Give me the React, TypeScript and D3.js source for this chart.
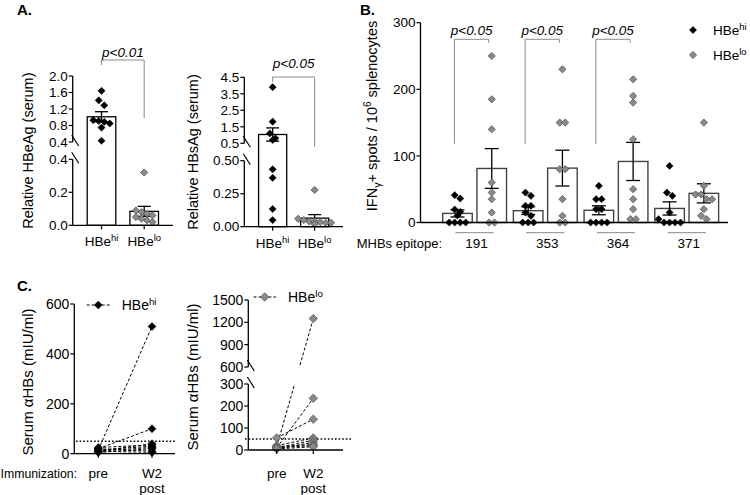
import React from 'react';
import * as d3 from 'd3';

// ---------- DATA ----------
const groupsA = ['hi', 'lo'];
const hbeagHi = [1.64, 1.41, 1.29, 0.93, 0.91, 0.89, 0.85, 0.75, 0.43];
const hbeagLo = [0.32, 0.08, 0.06, 0.05, 0.09, 0.07, 0.03, 0.02, 0.04];
const hbsagHi = [3.9, 1.81, 1.1, 0.8, 0.7, 0.435, 0.37, 0.134, 0.05];
const hbsagLo = [0.278, 0.06, 0.04, 0.03, 0.035, 0.05, 0.04, 0.02, 0.03];
const hbeagTicksLow = [0, 0.2, 0.4];
const hbeagTicksHigh = [0.4, 0.8, 1.2, 1.6, 2.0];
const hbsagTicksLow = [0, 0.25, 0.5];
const hbsagTicksHigh = [0.5, 1.5, 2.5, 3.5, 4.5];

const epitopes = ['191', '353', '364', '371'];
const spotsHi = [
  [41, 36, 19.5, 16, 10.5, 0, 0, 0, 0],
  [45, 40, 25, 25, 15, 10, 0, 0, 0],
  [55, 35, 35, 20, 20, 0, 0, 0, 0],
  [85, 45, 40, 15, 5, 0, 0, 0, 0],
];
const spotsLo = [
  [250, 185, 140, 60, 45, 35, 15, 0, 0],
  [230, 150, 150, 80, 80, 35, 10, 0, 0],
  [215, 190, 180, 125, 50, 35, 20, 5, 5],
  [150, 55, 42, 42, 35, 35, 20, 10, 5],
];
const spotTicks = [0, 100, 200, 300];
const significantEpitopes = ['191', '353', '364'];

const timepoints = ['pre', 'post'];
const abHiPre = [15, 20, 10, 25, 15, 10, 5, 20, 10];
const abHiPost = [510, 100, 40, 35, 30, 25, 20, 10, 5];
const abLoPre = [15, 10, 55, 20, 10, 5, 15, 10, 5];
const abLoPost = [1250, 235, 140, 55, 45, 35, 25, 20, 15];
const abHiTicks = [0, 200, 400, 600];
const abLoTicksLow = [0, 100, 200, 300];
const abLoTicksHigh = [600, 900, 1200, 1500];
const protectiveLevel = 50;

// ---------- STYLE ----------
const FONT = "'Liberation Sans', Arial, Helvetica, sans-serif";
const FS = 13;
const GRAY_FILL = '#8a8a8a';
const GRAY_STROKE = '#555';
const BRACKET = '#8c8c8c';

type Seg = { d: [number, number]; r: [number, number] };
function broken(segs: Seg[]) {
  const sc = segs.map((s) => d3.scaleLinear().domain(s.d).range(s.r));
  return (v: number) => {
    for (let i = 0; i < segs.length; i++) {
      if (v <= segs[i].d[1] || i === segs.length - 1) return sc[i](v);
    }
    return sc[sc.length - 1](v);
  };
}

function swarm(values: number[], y: (v: number) => number, cx: number, spacing: number, tol = 5) {
  const pts = values.map((v) => ({ v, y: y(v), x: cx }));
  const sorted = [...pts].sort((a, b) => a.y - b.y);
  const rows: typeof pts[] = [];
  let cur: typeof pts = [];
  let start = -1e9;
  sorted.forEach((p) => {
    if (cur.length && Math.abs(p.y - start) <= tol) cur.push(p);
    else {
      if (cur.length) rows.push(cur);
      cur = [p];
      start = p.y;
    }
  });
  if (cur.length) rows.push(cur);
  rows.forEach((r) => r.forEach((p, i) => (p.x = cx + (i - (r.length - 1) / 2) * spacing)));
  return pts;
}

const diamond = (x: number, y: number, h: number) =>
  `M${x},${y - h}L${x + h},${y}L${x},${y + h}L${x - h},${y}Z`;

function Diamond({ x, y, h, gray }: { x: number; y: number; h: number; gray?: boolean }) {
  return (
    <path
      d={diamond(x, y, h)}
      fill={gray ? GRAY_FILL : '#000'}
      stroke={gray ? GRAY_STROKE : '#000'}
      strokeWidth={gray ? 0.8 : 0.5}
    />
  );
}

function HBe({ x, y, sup, anchor = 'middle', fs = FS }: { x: number; y: number; sup: string; anchor?: string; fs?: number }) {
  return (
    <text x={x} y={y} textAnchor={anchor as any} fontSize={fs} fontFamily={FONT}>
      HBe<tspan fontSize={fs * 0.7} dy={-fs * 0.38}>{sup}</tspan>
    </text>
  );
}

function meanSem(v: number[]) {
  const m = d3.mean(v) as number;
  const s = (d3.deviation(v) as number) / Math.sqrt(v.length);
  return { m, s };
}

function ErrBar({ x, y1, y2, w, color = '#000' }: { x: number; y1: number; y2: number; w: number; color?: string }) {
  return (
    <g stroke={color} strokeWidth={1.3}>
      <line x1={x} x2={x} y1={y1} y2={y2} />
      <line x1={x - w / 2} x2={x + w / 2} y1={y1} y2={y1} />
      <line x1={x - w / 2} x2={x + w / 2} y1={y2} y2={y2} />
    </g>
  );
}

function BreakMarks({ ax, yA, yB }: { ax: number; yA: number; yB: number }) {
  return (
    <g stroke="#000" strokeWidth={1.2}>
      <line x1={ax - 1} x2={ax + 6} y1={yA - 7} y2={yA + 4} />
      <line x1={ax - 1} x2={ax + 6} y1={yB - 7} y2={yB + 4} />
    </g>
  );
}

function YAxisBroken({ ax, segs, low, high, fmtLow, fmtHigh, fs = FS }: any) {
  const sl = d3.scaleLinear().domain(segs[0].d).range(segs[0].r);
  const sh = d3.scaleLinear().domain(segs[1].d).range(segs[1].r);
  const ticks = [
    ...low.map((t: number) => ({ y: sl(t), s: fmtLow(t) })),
    ...high.map((t: number) => ({ y: sh(t), s: fmtHigh(t) })),
  ];
  return (
    <g>
      <line x1={ax} x2={ax} y1={segs[0].r[0]} y2={segs[0].r[1]} stroke="#000" strokeWidth={1.3} />
      <line x1={ax} x2={ax} y1={segs[1].r[0]} y2={segs[1].r[1]} stroke="#000" strokeWidth={1.3} />
      <BreakMarks ax={ax} yA={segs[1].r[0]} yB={segs[0].r[1]} />
      {ticks.map((d: any, i: number) => (
        <g key={i}>
          <line x1={ax - 4} x2={ax} y1={d.y} y2={d.y} stroke="#000" strokeWidth={1.2} />
          <text x={ax - 5} y={d.y} dy="0.35em" textAnchor="end" fontSize={fs} fontFamily={FONT}>
            {d.s}
          </text>
        </g>
      ))}
    </g>
  );
}

function YAxis({ ax, scale, ticks, fs = FS }: { ax: number; scale: d3.ScaleLinear<number, number>; ticks: number[]; fs?: number }) {
  const r = scale.range();
  return (
    <g>
      <line x1={ax} x2={ax} y1={r[0]} y2={r[1]} stroke="#000" strokeWidth={1.3} />
      {ticks.map((t) => (
        <g key={t}>
          <line x1={ax - 4} x2={ax} y1={scale(t)} y2={scale(t)} stroke="#000" strokeWidth={1.2} />
          <text x={ax - 5} y={scale(t)} dy="0.35em" textAnchor="end" fontSize={fs} fontFamily={FONT}>
            {t}
          </text>
        </g>
      ))}
    </g>
  );
}

function PanelA({ hi, lo, segs, low, high, fmtLow, fmtHigh, ax, axEnd, label, labelX, pText, pY, bracketY, leftDrop, rightDrop }: any) {
  const y = broken(segs);
  const x = d3.scaleBand().domain(groupsA).range([ax, axEnd]).paddingInner(0.33).paddingOuter(0.34);
  const bw = x.bandwidth();
  const y0 = segs[0].r[0];
  const sets = [hi, lo];
  const cxs = groupsA.map((g) => (x(g) as number) + bw / 2);
  return (
    <g>
      {groupsA.map((g, i) => {
        const { m, s } = meanSem(sets[i]);
        const pts = swarm(sets[i], y, cxs[i], 5.5);
        return (
          <g key={g}>
            <rect x={x(g)} y={y(m)} width={bw} height={y0 - y(m)} fill="#fff" stroke="#000" strokeWidth={1.3} />
            <ErrBar x={cxs[i]} y1={y(m + s)} y2={y(m - s)} w={13} />
            {pts.map((p, j) => (
              <Diamond key={j} x={p.x} y={p.y} h={3.6} gray={i === 1} />
            ))}
            <line x1={cxs[i]} x2={cxs[i]} y1={y0} y2={y0 + 4} stroke="#000" strokeWidth={1.2} />
            <HBe x={cxs[i]} y={y0 + 21} sup={g} fs={13.5} />
          </g>
        );
      })}
      <line x1={ax} x2={axEnd} y1={y0} y2={y0} stroke="#000" strokeWidth={1.3} />
      <YAxisBroken ax={ax} segs={segs} low={low} high={high} fmtLow={fmtLow} fmtHigh={fmtHigh} fs={13.5} />
      <text transform={`translate(${labelX},${(segs[0].r[0] + segs[1].r[1]) / 2}) rotate(-90)`} textAnchor="middle" fontSize={14.5} fontFamily={FONT}>
        {label}
      </text>
      <path d={`M${cxs[0]},${bracketY + leftDrop}V${bracketY}H${cxs[1]}V${bracketY + rightDrop}`} stroke={BRACKET} strokeWidth={1} fill="none" />
      <text x={(cxs[0] + cxs[1]) / 2} y={pY} textAnchor="middle" fontSize={13.5} fontStyle="italic" fontFamily={FONT}>
        {pText}
      </text>
    </g>
  );
}

function PanelB() {
  const ax = 420.5;
  const y = d3.scaleLinear().domain([0, 300]).range([222.5, 22.7]);
  const x0 = d3.scaleBand().domain(epitopes).range([439.25, 722.05]).padding(0);
  const x1 = d3.scaleBand().domain(groupsA).range([0, x0.bandwidth()]).paddingInner(0.137).paddingOuter(0.1);
  const bw = x1.bandwidth();
  const lfs = 14.5;
  return (
    <g>
      {epitopes.map((e, gi) => {
        const gx = x0(e) as number;
        const cHi = gx + (x1('hi') as number) + bw / 2;
        const cLo = gx + (x1('lo') as number) + bw / 2;
        const centers = [cHi, cLo];
        const sets = [spotsHi[gi], spotsLo[gi]];
        return (
          <g key={e}>
            {groupsA.map((g, i) => {
              const { m, s } = meanSem(sets[i]);
              const pts = swarm(sets[i], y, centers[i], 5.5);
              return (
                <g key={g}>
                  <rect x={gx + (x1(g) as number)} y={y(m)} width={bw} height={y(0) - y(m)} fill="#fff" stroke="#444" strokeWidth={1.4} />
                  <ErrBar x={centers[i]} y1={y(m + s)} y2={y(Math.max(0, m - s))} w={14} />
                  {pts.map((p, j) => (
                    <Diamond key={j} x={p.x} y={p.y} h={3.6} gray={i === 1} />
                  ))}
                </g>
              );
            })}
            <line x1={cHi - 2} x2={cLo + 2} y1={232.7} y2={232.7} stroke="#888" strokeWidth={1} />
            <text x={(cHi + cLo) / 2 + 2} y={247.5} textAnchor="middle" fontSize={13.5} fontFamily={FONT}>{e}</text>
            {significantEpitopes.includes(e) && (
              <g>
                <path d={`M${cHi - 3},${y(118)}V${39.3}H${cLo - 3}V${43}`} stroke={BRACKET} strokeWidth={1} fill="none" />
                <text x={(cHi + cLo) / 2 - 3} y={34.5} textAnchor="middle" fontSize={13.5} fontStyle="italic" fontFamily={FONT}>p&lt;0.05</text>
              </g>
            )}
          </g>
        );
      })}
      <line x1={ax} x2={728} y1={y(0)} y2={y(0)} stroke="#000" strokeWidth={1.3} />
      <YAxis ax={ax} scale={y} ticks={spotTicks} fs={13.5} />
      <text transform={`translate(377,116) rotate(-90)`} textAnchor="middle" fontSize={lfs} fontFamily={FONT}>
        IFN<tspan fontSize={lfs * 0.75} dy={3.5}>γ</tspan>
        <tspan dy={-3.5}>+ spots / 10</tspan>
        <tspan fontSize={lfs * 0.7} dy={-6}>6</tspan>
        <tspan dy={6}> splenocytes</tspan>
      </text>
      <text x={442} y={247.5} textAnchor="end" fontSize={13} fontFamily={FONT}>MHBs epitope:</text>
      <Diamond x={693} y={30} h={3.6} />
      <HBe x={713} y={35} sup="hi" anchor="start" fs={13.5} />
      <Diamond x={693} y={55} h={3.6} gray />
      <HBe x={713} y={60} sup="lo" anchor="start" fs={13.5} />
    </g>
  );
}

function PanelCLeft() {
  const ax = 74.3;
  const y = d3.scaleLinear().domain([0, 600]).range([453.7, 304]);
  const x = d3.scalePoint().domain(timepoints).range([98.3, 152]);
  const xp = x('pre') as number;
  const xq = x('post') as number;
  return (
    <g>
      <line x1={76} x2={176} y1={y(protectiveLevel)} y2={y(protectiveLevel)} stroke="#000" strokeWidth={1.6} strokeDasharray="1.6,2" />
      {abHiPre.map((v, i) => (
        <line key={i} x1={xp} y1={y(v)} x2={xq} y2={y(abHiPost[i])} stroke="#000" strokeWidth={1} strokeDasharray="3,2" />
      ))}
      {abHiPre.map((v, i) => <Diamond key={'a' + i} x={xp} y={y(v)} h={4} />)}
      {abHiPost.map((v, i) => <Diamond key={'b' + i} x={xq} y={y(v)} h={4} />)}
      <line x1={ax} x2={175} y1={y(0)} y2={y(0)} stroke="#000" strokeWidth={1.3} />
      <line x1={xp} x2={xp} y1={y(0)} y2={y(0) + 4} stroke="#000" strokeWidth={1.2} />
      <line x1={xq} x2={xq} y1={y(0)} y2={y(0) + 4} stroke="#000" strokeWidth={1.2} />
      <YAxis ax={ax} scale={y} ticks={abHiTicks} fs={14} />
      <text transform={`translate(33,382) rotate(-90)`} textAnchor="middle" fontSize={15} fontFamily={FONT}>
        Serum αHBs (mIU/ml)
      </text>
      <line x1={86.7} x2={110} y1={305} y2={305} stroke="#000" strokeWidth={1} strokeDasharray="3,2" />
      <Diamond x={98.3} y={305} h={4} />
      <HBe x={121.7} y={310} sup="hi" anchor="start" fs={14} />
      <text x={0.5} y={478} textAnchor="start" fontSize={12.3} fontFamily={FONT}>Immunization:</text>
      <text x={xp} y={478} textAnchor="middle" fontSize={13.5} fontFamily={FONT}>pre</text>
      <text x={xq} y={478} textAnchor="middle" fontSize={13.5} fontFamily={FONT}>W2</text>
      <text x={xq} y={493} textAnchor="middle" fontSize={13.5} fontFamily={FONT}>post</text>
    </g>
  );
}

function PanelCRight() {
  const ax = 248.3;
  const segs: Seg[] = [
    { d: [0, 300], r: [450, 384] },
    { d: [600, 1500], r: [367, 300] },
  ];
  const y = broken(segs);
  const x = d3.scalePoint().domain(timepoints).range([276.7, 313.3]);
  const xp = x('pre') as number;
  const xq = x('post') as number;
  return (
    <g>
      <defs>
        <clipPath id="cgap">
          <rect x={230} y={280} width={140} height={segs[1].r[0] - 280} />
          <rect x={230} y={segs[0].r[1]} width={140} height={100} />
        </clipPath>
      </defs>
      <line x1={245} x2={352} y1={y(protectiveLevel)} y2={y(protectiveLevel)} stroke="#000" strokeWidth={1.6} strokeDasharray="1.6,2" />
      <g clipPath="url(#cgap)">
        {abLoPre.map((v, i) => (
          <line key={i} x1={xp} y1={y(v)} x2={xq} y2={y(abLoPost[i])} stroke="#000" strokeWidth={1} strokeDasharray="3,2" />
        ))}
      </g>
      {abLoPre.map((v, i) => <Diamond key={'a' + i} x={xp} y={y(v)} h={4.2} gray />)}
      {abLoPost.map((v, i) => <Diamond key={'b' + i} x={xq} y={y(v)} h={4.2} gray />)}
      <line x1={ax} x2={343} y1={segs[0].r[0]} y2={segs[0].r[0]} stroke="#000" strokeWidth={1.3} />
      <line x1={xp} x2={xp} y1={segs[0].r[0]} y2={segs[0].r[0] + 4} stroke="#000" strokeWidth={1.2} />
      <line x1={xq} x2={xq} y1={segs[0].r[0]} y2={segs[0].r[0] + 4} stroke="#000" strokeWidth={1.2} />
      <YAxisBroken ax={ax} segs={segs} low={abLoTicksLow} high={abLoTicksHigh} fmtLow={(v: number) => String(v)} fmtHigh={(v: number) => String(v)} fs={14} />
      <text transform={`translate(198.3,377) rotate(-90)`} textAnchor="middle" fontSize={15} fontFamily={FONT}>
        Serum αHBs (mIU/ml)
      </text>
      <line x1={253.5} x2={276} y1={297} y2={297} stroke="#000" strokeWidth={1} strokeDasharray="3,2" />
      <Diamond x={264.7} y={297} h={4.2} gray />
      <HBe x={288} y={302} sup="lo" anchor="start" fs={14} />
      <text x={xp} y={478} textAnchor="middle" fontSize={13.5} fontFamily={FONT}>pre</text>
      <text x={xq} y={478} textAnchor="middle" fontSize={13.5} fontFamily={FONT}>W2</text>
      <text x={xq} y={493} textAnchor="middle" fontSize={13.5} fontFamily={FONT}>post</text>
    </g>
  );
}

export default function App() {
  return (
    <svg width={750} height={495} style={{ position: 'absolute', left: 0, top: 0, background: '#fff' }} fontFamily={FONT}>
      <rect width={750} height={495} fill="#fff" />
      <text x={17} y={15} fontSize={15} fontWeight="bold" fontFamily={FONT}>A.</text>
      <text x={360} y={15} fontSize={15} fontWeight="bold" fontFamily={FONT}>B.</text>
      <text x={17} y={291} fontSize={15} fontWeight="bold" fontFamily={FONT}>C.</text>
      <PanelA
        hi={hbeagHi} lo={hbeagLo}
        segs={[{ d: [0, 0.4], r: [225.3, 159.3] }, { d: [0.4, 2.0], r: [142, 76] }]}
        low={hbeagTicksLow} high={hbeagTicksHigh}
        fmtLow={d3.format('.1f')} fmtHigh={d3.format('.1f')}
        ax={72.7} axEnd={173} label="Relative HBeAg (serum)" labelX={33}
        pText="p<0.01" pY={56.5} bracketY={60} leftDrop={5} rightDrop={58}
      />
      <PanelA
        hi={hbsagHi} lo={hbsagLo}
        segs={[{ d: [0, 0.5], r: [226.7, 160.7] }, { d: [0.5, 4.5], r: [143.3, 77.3] }]}
        low={hbsagTicksLow} high={hbsagTicksHigh}
        fmtLow={d3.format('.2f')} fmtHigh={d3.format('.1f')}
        ax={244.3} axEnd={343} label="Relative HBsAg (serum)" labelX={198.3}
        pText="p<0.05" pY={68} bracketY={77} leftDrop={5} rightDrop={70}
      />
      <PanelB />
      <PanelCLeft />
      <PanelCRight />
    </svg>
  );
}
